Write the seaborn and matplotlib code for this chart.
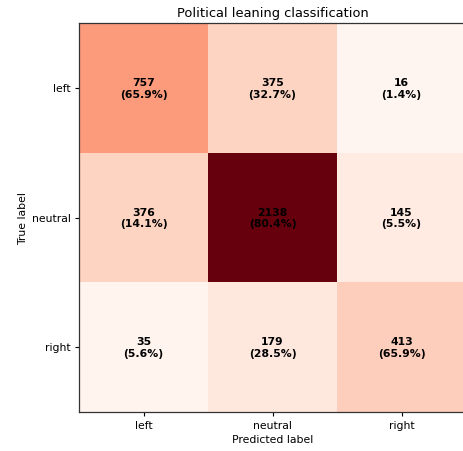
import numpy as np
import pandas as pd
import matplotlib
matplotlib.use("Agg")
import matplotlib.pyplot as plt
import seaborn as sns

labels = ["left", "neutral", "right"]
row_left = [757, 375, 16]
row_neutral = [376, 2138, 145]
row_right = [35, 179, 413]
pct_left = [65.9, 32.7, 1.4]
pct_neutral = [14.1, 80.4, 5.5]
pct_right = [5.6, 28.5, 65.9]

counts = np.array([row_left, row_neutral, row_right])
pcts = np.array([pct_left, pct_neutral, pct_right])
df = pd.DataFrame(counts, index=labels, columns=labels)
annot = np.array([[f"{c}\n({p:.1f}%)" for c, p in zip(cr, pr)] for cr, pr in zip(counts, pcts)])

fig = plt.figure(figsize=(4.64, 4.52), dpi=100)
W, H = 464, 452
ax = fig.add_axes([79 / W, (H - 413) / H, (466 - 79) / W, (413 - 24) / H])
sns.heatmap(df, annot=annot, fmt="", cmap="Reds", cbar=False, ax=ax,
            annot_kws={"color": "black", "fontweight": "bold", "fontsize": 7.8})
for s in ax.spines.values():
    s.set_visible(True)
    s.set_color("#333333")
    s.set_linewidth(0.9)
ax.tick_params(axis="both", length=3, width=0.8, labelsize=7.8, pad=3)
ax.set_yticklabels(labels, rotation=0)
ax.set_xticklabels(labels, rotation=0)
ax.set_xlabel("Predicted label", fontsize=7.8, labelpad=3)
ax.set_ylabel("True label", fontsize=7.8, labelpad=3)
ax.set_title("Political leaning classification", fontsize=9.4, pad=5)
fig.savefig("out.png", dpi=100)
